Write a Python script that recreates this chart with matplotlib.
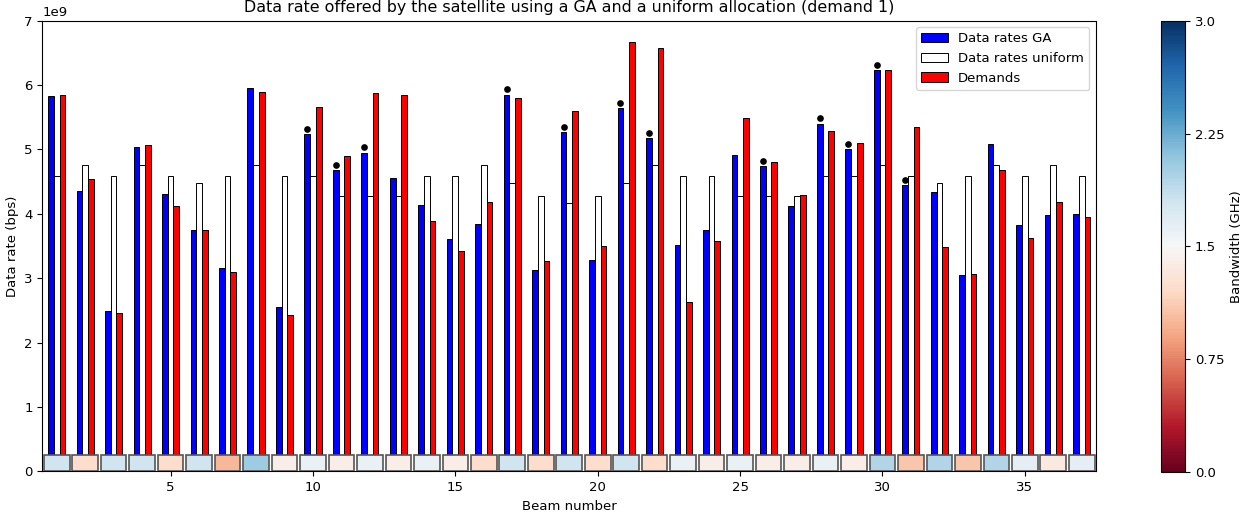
import numpy as np
import matplotlib
matplotlib.use('Agg')
import matplotlib.pyplot as plt

plt.rcParams['font.size'] = 9.5

# beam numbers
beams = np.arange(1, 38)

# data rates (x1e9 bps)
ga = [5.83, 4.36, 2.49, 5.03, 4.31, 3.75, 3.16, 5.95, 2.55, 5.24,
      4.68, 4.95, 4.55, 4.13, 3.61, 3.84, 5.85, 3.12, 5.27, 3.28,
      5.64, 5.18, 3.52, 3.74, 4.91, 4.74, 4.12, 5.40, 5.00, 6.23,
      4.44, 4.33, 3.05, 5.09, 3.83, 3.98, 3.99]
uniform = [4.59, 4.75, 4.58, 4.75, 4.58, 4.48, 4.58, 4.75, 4.58, 4.58,
           4.28, 4.28, 4.28, 4.58, 4.58, 4.75, 4.48, 4.28, 4.17, 4.28,
           4.48, 4.75, 4.58, 4.58, 4.28, 4.28, 4.28, 4.58, 4.58, 4.75,
           4.58, 4.48, 4.58, 4.75, 4.58, 4.75, 4.58]
demand = [5.85, 4.54, 2.46, 5.07, 4.12, 3.75, 3.09, 5.89, 2.42, 5.66,
          4.89, 5.88, 5.84, 3.89, 3.42, 4.19, 5.79, 3.26, 5.60, 3.50,
          6.67, 6.57, 2.63, 3.57, 5.48, 4.81, 4.29, 5.28, 5.10, 6.24,
          5.35, 3.48, 3.07, 4.68, 3.63, 4.19, 3.95]
# beams marked with a dot
marked = [10, 11, 12, 17, 19, 21, 22, 26, 28, 29, 30, 31]
# bandwidth per beam (GHz)
bandwidth = [1.8, 1.22, 1.8, 1.8, 1.22, 1.8, 1.0, 2.05, 1.4, 1.6,
             1.4, 1.6, 1.4, 1.6, 1.4, 1.22, 1.8, 1.22, 1.8, 1.22,
             1.8, 1.22, 1.6, 1.4, 1.6, 1.4, 1.4, 1.6, 1.4, 1.95,
             1.08, 1.95, 1.08, 1.95, 1.65, 1.35, 1.65]

ga = np.array(ga)*1e9
uniform = np.array(uniform)*1e9
demand = np.array(demand)*1e9

w = 0.2
fig = plt.figure(figsize=(12.49, 5.14), dpi=100)
ax = fig.add_axes([0.034, 0.083, 0.8435, 0.877])
cax = fig.add_axes([0.9296, 0.081, 0.0192, 0.879])

ax.bar(beams-w, ga, w, color='blue', edgecolor='black', linewidth=0.7, label='Data rates GA')
ax.bar(beams, uniform, w, color='white', edgecolor='black', linewidth=0.7, label='Data rates uniform')
ax.bar(beams+w, demand, w, color='red', edgecolor='black', linewidth=0.7, label='Demands')

idx = np.array(marked)-1
ax.plot(beams[idx]-w, ga[idx]+0.08e9, 'ko', markersize=3.8)

cmap = plt.get_cmap('RdBu')
norm = matplotlib.colors.Normalize(vmin=0, vmax=3)
ax.bar(beams, np.full(len(beams), 0.26e9), 0.9, color=cmap(norm(np.array(bandwidth))),
       edgecolor='#555555', linewidth=1.2, zorder=3)

ax.set_xlim(0.5, 37.5)
ax.set_ylim(0, 7e9)
ax.set_xlabel('Beam number')
ax.set_ylabel('Data rate (bps)')
ax.set_title('Data rate offered by the satellite using a GA and a uniform allocation (demand 1)',
             fontsize=11.4)
ax.legend(loc='upper right')

sm = matplotlib.cm.ScalarMappable(norm=norm, cmap=cmap)
cb = fig.colorbar(sm, cax=cax)
cb.set_ticks([0, 0.75, 1.5, 2.25, 3.0])
cb.set_ticklabels(['0.0', '0.75', '1.5', '2.25', '3.0'])
cb.set_label('Bandwidth (GHz)')

fig.savefig('out.png', dpi=100)
